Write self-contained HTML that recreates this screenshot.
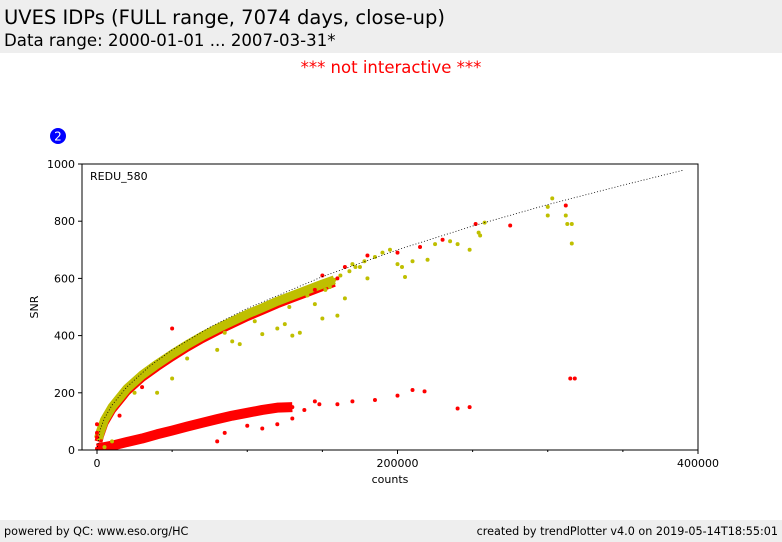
<!DOCTYPE html>
<html><head><meta charset="utf-8"><style>
body{margin:0;width:782px;height:542px;background:#fff;font-family:"DejaVu Sans","Liberation Sans",sans-serif;position:relative;overflow:hidden}
.band{position:absolute;left:0;width:782px;background:#eeeeee}
</style></head><body>
<div class="band" style="top:0;height:53px"></div>
<div style="position:absolute;left:4px;top:6px;font-size:19.5px">UVES IDPs (FULL range, 7074 days, close-up)</div>
<div style="position:absolute;left:4px;top:31px;font-size:16.6px">Data range: 2000-01-01 ... 2007-03-31*</div>
<div style="position:absolute;left:0;width:782px;text-align:center;top:58px;font-size:16.5px;color:#ff0000">*** not interactive ***</div>
<div class="band" style="top:520px;height:22px"></div>
<div style="position:absolute;left:4px;top:525px;font-size:11.2px">powered by QC: www.eso.org/HC</div>
<div style="position:absolute;right:4px;top:525px;font-size:11.2px">created by trendPlotter v4.0 on 2019-05-14T18:55:01</div>
<svg id="chart" width="782" height="542" style="position:absolute;left:0;top:0" font-family="DejaVu Sans, Liberation Sans, sans-serif"></svg>
<script>
const xTicks=[0,200000,400000];
const xTickLabels=["0","200000","400000"];
const xMinor=[50000,100000,150000,250000,300000,350000];
const yTicks=[0,200,400,600,800,1000];
const fitCounts=[0,2000,5000,10000,20000,35000,50000,75000,100000,150000,200000,250000,300000,350000,390000];
const fitSnr=[0,70,111,157,221,293,350,429,495,606,700,783,858,926,978];
const upperCounts=[1000,2000,5000,10000,20000,30000,40000,50000,60000,70000,80000,90000,100000,110000,120000,130000,140000,150000,158000];
const upperSnr=[40,60,105,150,215,262,300,335,368,398,425,450,475,497,520,540,560,580,595];
const lowerCounts=[0,10000,20000,30000,40000,50000,60000,70000,80000,90000,100000,110000,120000,130000];
const lowerSnr=[5,15,28,40,55,68,82,95,108,120,130,140,148,150];
const yelCounts=[300000,300000,303000,312000,313000,316000,316000,255000,240000,248000,205000,203000,210000,220000,175000,180000,190000,160000,165000,150000,145000,135000,130000,125000,120000,110000,95000,90000,80000,60000,50000,40000,25000,10000,5000,195000,170000,162000,168000,172000,178000,185000,200000,225000,235000,254000,258000,152000,155000,140000,128000,105000,85000];
const yelSnr=[820,850,880,820,790,790,722,750,720,700,605,640,660,665,640,600,690,470,530,460,510,410,400,440,425,405,370,380,350,320,250,200,200,30,10,700,650,610,625,640,660,675,650,720,730,760,795,560,570,540,500,450,410];
const redCounts=[50000,315000,318000,312000,275000,252000,230000,215000,200000,210000,218000,200000,185000,170000,160000,145000,148000,138000,130000,120000,110000,100000,85000,80000,240000,248000,160000,0,0,0,30000,15000,2000,115000,125000,150000,145000,165000,180000];
const redSnr=[425,250,250,855,785,790,735,710,690,210,205,190,175,170,160,170,160,140,110,90,75,85,60,30,145,150,600,90,60,45,220,120,20,150,155,610,560,640,680];
const svg=document.getElementById('chart');
const NS='http://www.w3.org/2000/svg';
const L=82,R=698,T=164,B=450;
function X(v){return 97+(v-0)*(601/400000);}
function Y(v){return B-v*(B-T)/1000;}
function mk(t,a,p){const e=document.createElementNS(NS,t);for(const k in a)e.setAttribute(k,a[k]);(p||svg).appendChild(e);return e;}
let c=mk('circle',{cx:58,cy:136,r:8,fill:'#0000ff'});


let t=mk('text',{x:58,y:140.5,'font-size':12,fill:'#fff','text-anchor':'middle'});t.textContent='2';


const clip=mk('clipPath',{id:'pc'});mk('rect',{x:L,y:T,width:R-L,height:B-T},clip);
const g=mk('g',{'clip-path':'url(#pc)'});


function band(xs,ys,col,w,name,dy){const p=mk('polyline',{points:xs.map((v,i)=>X(v)+','+(Y(ys[i])+(dy||0))).join(' '),fill:'none',stroke:col,'stroke-width':w,'stroke-linecap':'butt','stroke-linejoin':'round'},g);

}
function pts(xs,ys,col,name){xs.forEach((v,i)=>{const e=mk('circle',{cx:X(v),cy:Y(ys[i]),r:2,fill:col},g);

});}
band(lowerCounts,lowerSnr,'#ff0000',10,'lower-band');
pts(lowerCounts,lowerSnr,'#ff0000','lower-point');
band(upperCounts,upperSnr,'#ff0000',8,'upper-band-edge',3);
band(upperCounts,upperSnr,'#bfbf00',9,'upper-band');
pts(upperCounts,upperSnr,'#bfbf00','upper-point');
pts(yelCounts,yelSnr,'#bfbf00','yellow-point');
pts(redCounts,redSnr,'#ff0000','red-point');
const fl=mk('polyline',{points:fitCounts.map((v,i)=>X(v)+','+Y(fitSnr[i])).join(' '),fill:'none',stroke:'#000','stroke-width':0.8,'stroke-dasharray':'1,2'},g);


const fr=mk('rect',{x:L,y:T,width:R-L,height:B-T,fill:'none',stroke:'#000','stroke-width':1});


xTicks.forEach((v,i)=>{mk('line',{x1:X(v),x2:X(v),y1:B,y2:B+4,stroke:'#000'});const e=mk('text',{x:X(v),y:B+17,'font-size':11,'text-anchor':'middle'});e.textContent=xTickLabels[i];

});
xMinor.forEach(v=>mk('line',{x1:X(v),x2:X(v),y1:B,y2:B+2,stroke:'#000'}));
yTicks.forEach(v=>{mk('line',{x1:L-4,x2:L,y1:Y(v),y2:Y(v),stroke:'#000'});const e=mk('text',{x:L-7,y:Y(v)+4,'font-size':11,'text-anchor':'end'});e.textContent=String(v);

});
let xl=mk('text',{x:390,y:483,'font-size':11,'text-anchor':'middle'});xl.textContent='counts';


let yl=mk('text',{x:38,y:307,'font-size':11,'text-anchor':'middle',transform:'rotate(-90 38 307)'});yl.textContent='SNR';


let lb=mk('text',{x:90,y:180,'font-size':11});lb.textContent='REDU_580';


</script>
</body></html>
